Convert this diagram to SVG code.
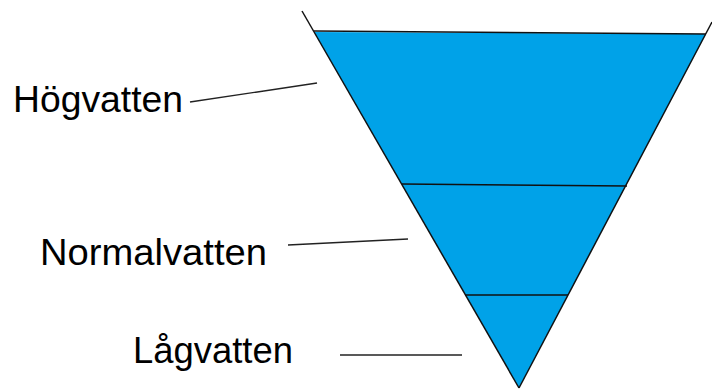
<svg xmlns="http://www.w3.org/2000/svg" width="712" height="390" viewBox="0 0 712 390">
<style>
.lbl{font-family:"Liberation Sans",Arial,sans-serif;font-size:37px;fill:#000}
.edge{stroke:#111;stroke-width:1.5;fill:none}
.lead{stroke:#222;stroke-width:1.4;fill:none}
</style>
<rect width="712" height="390" fill="#fff"/>
<g id="triangle">
<polygon points="314,32 706,34 519,388" fill="#00a2e8"/>
<line class="edge" x1="302" y1="11" x2="519" y2="388"/>
<line class="edge" x1="712" y1="22" x2="519" y2="388"/>
<line class="edge" x1="314" y1="31" x2="706" y2="34"/>
</g>
<g id="level-high-normal">
<line class="edge" x1="402" y1="184" x2="627" y2="186"/>
</g>
<g id="level-normal-low">
<line class="edge" x1="465" y1="295" x2="568" y2="295"/>
</g>
<g id="connectors">
<line class="lead" x1="190" y1="102" x2="317" y2="83"/>
<line class="lead" x1="288" y1="245" x2="408" y2="239"/>
<line class="lead" x1="340" y1="355" x2="462" y2="355"/>
</g>
<g id="label-hogvatten"><text class="lbl" x="13" y="112" textLength="170" lengthAdjust="spacingAndGlyphs">Högvatten</text></g>
<g id="label-normalvatten"><text class="lbl" x="40" y="265" textLength="227" lengthAdjust="spacingAndGlyphs">Normalvatten</text></g>
<g id="label-lagvatten"><text class="lbl" x="133" y="363" textLength="160" lengthAdjust="spacingAndGlyphs">Lågvatten</text></g>
</svg>
